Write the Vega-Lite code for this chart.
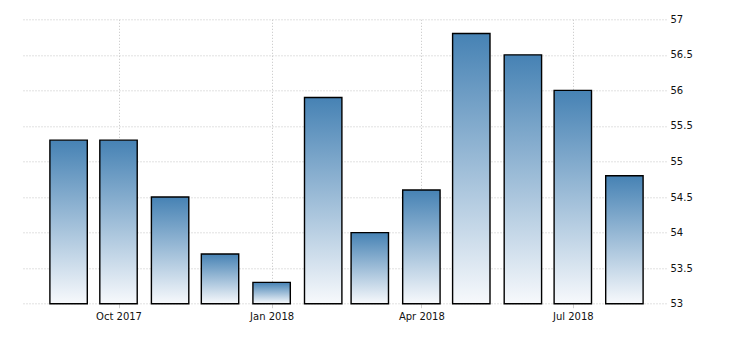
{
  "$schema": "https://vega.github.io/schema/vega-lite/v6.json",
  "autosize": "none",
  "width": 644,
  "height": 284.4,
  "padding": {"left": 22, "top": 19.3, "right": 64, "bottom": 36.3},
  "background": "white",
  "config": {"view": {"stroke": null}},
  "data": {
    "values": [
      {"date": "2017-09-01", "value": 55.3},
      {"date": "2017-10-01", "value": 55.3},
      {"date": "2017-11-01", "value": 54.5},
      {"date": "2017-12-01", "value": 53.7},
      {"date": "2018-01-01", "value": 53.3},
      {"date": "2018-02-01", "value": 55.9},
      {"date": "2018-03-01", "value": 54.0},
      {"date": "2018-04-01", "value": 54.6},
      {"date": "2018-05-01", "value": 56.8},
      {"date": "2018-06-01", "value": 56.5},
      {"date": "2018-07-01", "value": 56.0},
      {"date": "2018-08-01", "value": 54.8}
    ]
  },
  "mark": {
    "type": "bar",
    "size": 37.4,
    "stroke": "#000000",
    "strokeWidth": 1.4,
    "color": {
      "gradient": "linear",
      "x1": 0, "y1": 0, "x2": 0, "y2": 1,
      "stops": [
        {"offset": 0, "color": "#4682b4"},
        {"offset": 1, "color": "#f7f9fc"}
      ]
    }
  },
  "encoding": {
    "x": {
      "field": "date",
      "type": "temporal",
      "scale": {
        "type": "utc",
        "padding": 0,
        "domain": [
          {"year": 2017, "month": 8, "date": 4, "utc": true},
          {"year": 2018, "month": 8, "date": 26, "utc": true}
        ]
      },
      "axis": {
        "title": null,
        "values": [
          {"year": 2017, "month": 10, "date": 1, "utc": true},
          {"year": 2018, "month": 1, "date": 1, "utc": true},
          {"year": 2018, "month": 4, "date": 1, "utc": true},
          {"year": 2018, "month": 7, "date": 1, "utc": true}
        ],
        "format": "%b %Y",
        "domain": false,
        "grid": true,
        "gridColor": "#c4c4c4",
        "gridDash": [1, 2],
        "gridWidth": 1,
        "ticks": true,
        "tickColor": "#cfcfcf",
        "tickSize": 4,
        "labelPadding": 4,
        "labelFont": "DejaVu Sans",
        "labelFontSize": 10,
        "labelColor": "#111111",
        "labelFlush": false
      }
    },
    "y": {
      "field": "value",
      "type": "quantitative",
      "scale": {"domain": [53, 57], "zero": false, "nice": false},
      "axis": {
        "title": null,
        "orient": "right",
        "values": [53, 53.5, 54, 54.5, 55, 55.5, 56, 56.5, 57],
        "format": "~g",
        "domain": false,
        "ticks": false,
        "grid": true,
        "gridColor": "#c4c4c4",
        "gridDash": [1, 2],
        "gridWidth": 1,
        "labelPadding": 4,
        "labelFont": "DejaVu Sans",
        "labelFontSize": 10,
        "labelColor": "#111111",
        "labelBaseline": "middle"
      }
    },
    "y2": {"datum": 53}
  }
}
